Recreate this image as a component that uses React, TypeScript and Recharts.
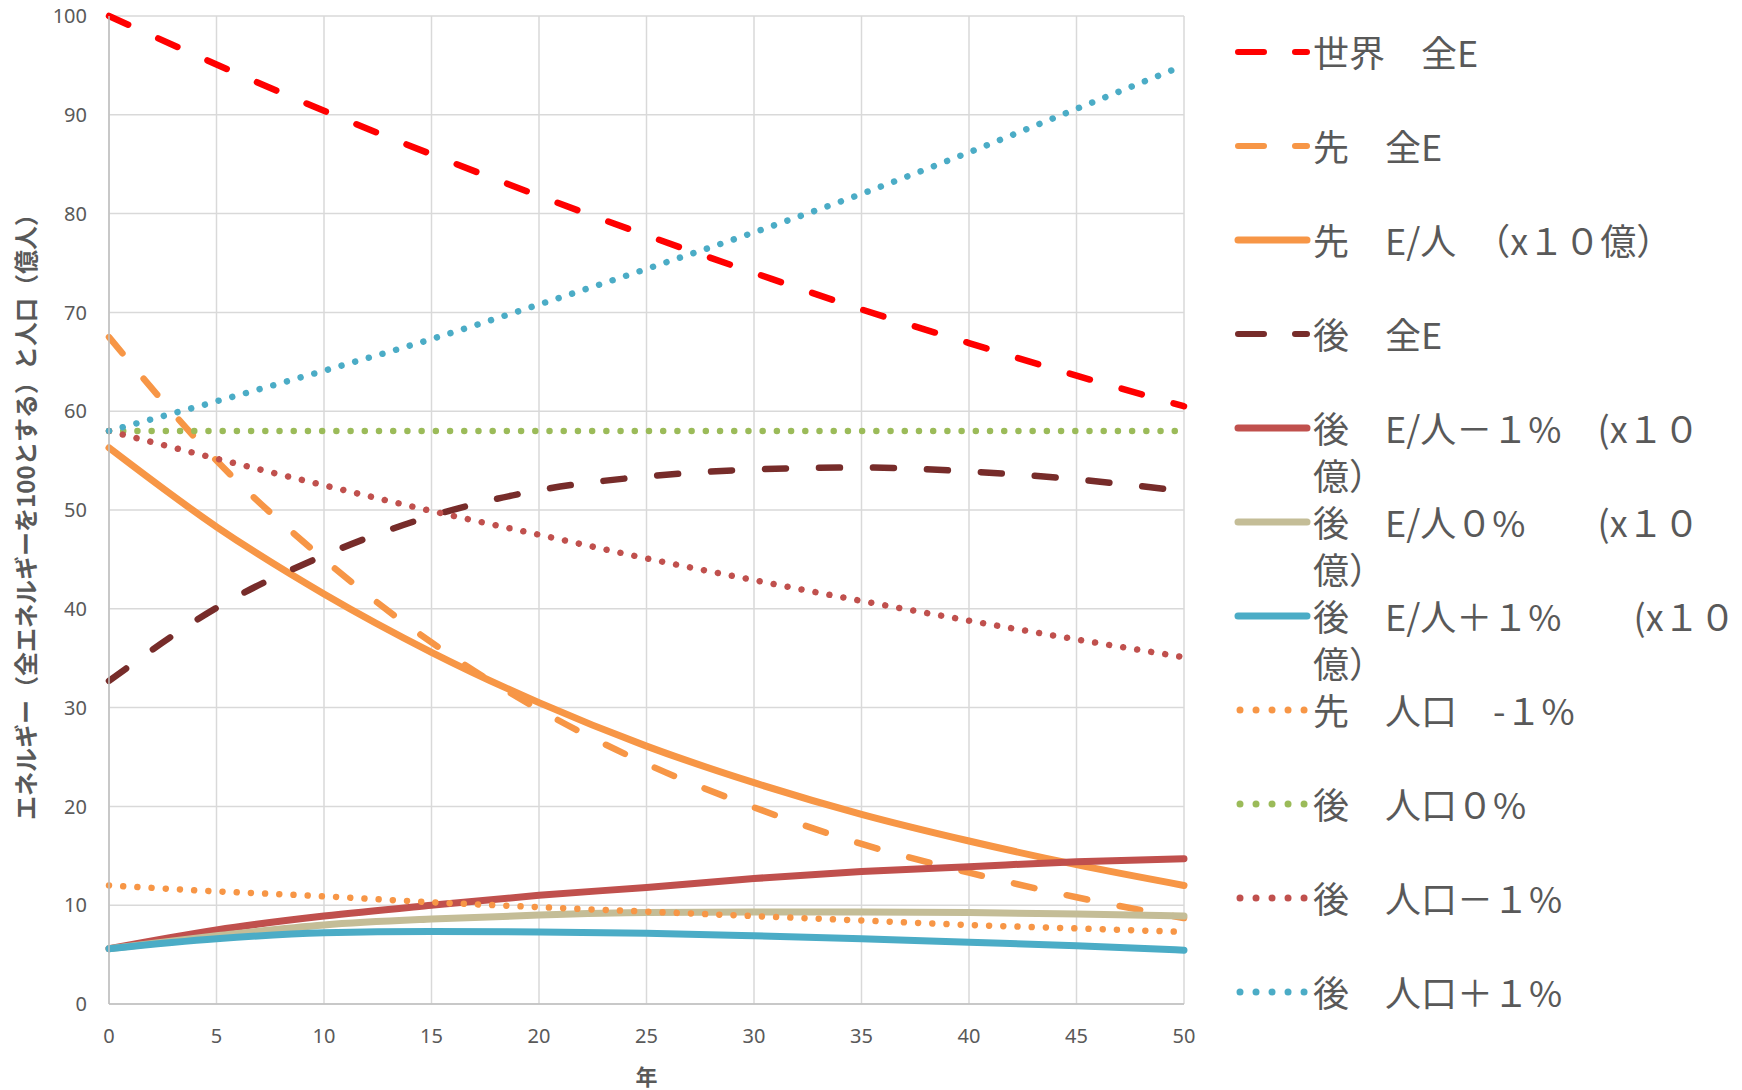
import { LineChart, Line, XAxis, YAxis, CartesianGrid, Legend, Label } from "recharts";

// 年
const years = [0, 5, 10, 15, 20, 25, 30, 35, 40, 45, 50];

// values, every 5 years
const worldTotal = [100, 95.1, 90.4, 86.0, 81.8, 77.8, 74.0, 70.3, 66.9, 63.6, 60.5];
const advTotal = [67.5, 55.0, 45.0, 36.6, 29.8, 24.3, 19.9, 16.2, 13.3, 10.8, 8.7];
const advPerCap = [56.3, 48.3, 41.5, 35.6, 30.5, 26.1, 22.4, 19.2, 16.5, 14.1, 12.0];
const lateTotal = [32.7, 40.1, 45.4, 49.4, 52.0, 53.4, 54.1, 54.3, 53.9, 53.1, 51.9];
const latePerCapMinus = [5.6, 7.5, 8.9, 10.0, 11.0, 11.8, 12.7, 13.4, 13.9, 14.4, 14.7];
const latePerCapZero = [5.6, 6.9, 8.0, 8.6, 9.0, 9.25, 9.3, 9.3, 9.25, 9.1, 8.9];
const latePerCapPlus = [5.6, 6.6, 7.2, 7.35, 7.3, 7.15, 6.9, 6.6, 6.25, 5.9, 5.45];
const advPopMinus = [12.0, 11.4, 10.9, 10.3, 9.8, 9.35, 8.9, 8.45, 8.0, 7.65, 7.3];
const latePopZero = [58, 58, 58, 58, 58, 58, 58, 58, 58, 58, 58];
const latePopMinus = [58, 55.2, 52.5, 49.9, 47.5, 45.1, 42.9, 40.8, 38.8, 36.9, 35.1];
const latePopPlus = [58, 61.0, 64.1, 67.3, 70.8, 74.4, 78.1, 82.0, 86.2, 90.6, 95.0];

const yTicks = [0, 10, 20, 30, 40, 50, 60, 70, 80, 90, 100];

type Kind = "dash" | "solid" | "dot";

const series: { key: string; label: string; color: string; kind: Kind; values: number[] }[] = [
  { key: "s1", label: "世界　全E", color: "#FF0000", kind: "dash", values: worldTotal },
  { key: "s2", label: "先　全E", color: "#F79646", kind: "dash", values: advTotal },
  { key: "s3", label: "先　E/人　（x１０億）", color: "#F79646", kind: "solid", values: advPerCap },
  { key: "s4", label: "後　全E", color: "#772C2A", kind: "dash", values: lateTotal },
  { key: "s5", label: "後　E/人－１%　(x１０\n億）", color: "#C0504D", kind: "solid", values: latePerCapMinus },
  { key: "s6", label: "後　E/人０%　　(x１０\n億）", color: "#C4BD97", kind: "solid", values: latePerCapZero },
  { key: "s7", label: "後　E/人＋１%　　(x１０\n億）", color: "#4BACC6", kind: "solid", values: latePerCapPlus },
  { key: "s8", label: "先　人口　-１%", color: "#F79646", kind: "dot", values: advPopMinus },
  { key: "s9", label: "後　人口０%", color: "#9BBB59", kind: "dot", values: latePopZero },
  { key: "s10", label: "後　人口－１%", color: "#C0504D", kind: "dot", values: latePopMinus },
  { key: "s11", label: "後　人口＋１%", color: "#4BACC6", kind: "dot", values: latePopPlus },
];

const data = years.map((y, i) => {
  const row: Record<string, number> = { year: y };
  series.forEach((s) => (row[s.key] = s.values[i]));
  return row;
});

const textColor = "#595959";
const tickStyle = { fill: textColor, fontSize: 20, fontFamily: "'Noto Sans', sans-serif" };

function lineStyle(kind: Kind) {
  if (kind === "dash") return { strokeWidth: 6.5, strokeDasharray: "21 33" };
  if (kind === "dot") return { strokeWidth: 6.5, strokeDasharray: "0.01 14.2" };
  return { strokeWidth: 7 };
}

function LegendIcon({ color, kind }: { color: string; kind: Kind }) {
  if (kind === "dot") {
    return <line x1={13} x2={78} y1={23} y2={23} stroke={color} strokeWidth={7} strokeLinecap="round" strokeDasharray="0.01 16" />;
  }
  if (kind === "dash") {
    return <line x1={11} x2={80} y1={23} y2={23} stroke={color} strokeWidth={6} strokeLinecap="round" strokeDasharray="26 31" />;
  }
  return <line x1={11} x2={80} y1={23} y2={23} stroke={color} strokeWidth={7} strokeLinecap="round" />;
}

function LegendBox() {
  return (
    <div style={{ position: "relative", width: 512, height: 1090 }}>
      {series.map((s, i) => (
        <div key={s.key} style={{ position: "absolute", left: 0, top: 29 + i * 94, display: "flex", alignItems: "flex-start" }}>
          <svg width={86} height={46} style={{ flex: "none" }}>
            <LegendIcon color={s.color} kind={s.kind} />
          </svg>
          <div
            style={{
              fontFamily: "'Noto Sans CJK JP', sans-serif",
              fontSize: 36,
              lineHeight: "47px",
              marginTop: -1,
              color: textColor,
              whiteSpace: "pre",
            }}
          >
            {s.label}
          </div>
        </div>
      ))}
    </div>
  );
}

export default function App() {
  return (
    <div style={{ position: "absolute", left: 0, top: 0, width: 1742, height: 1090, background: "#fff" }}>
      <LineChart width={1742} height={1090} data={data} margin={{ top: 16, right: 558, bottom: 0, left: 0 }}>
        <CartesianGrid stroke="#d9d9d9" strokeWidth={1.5} />
        <XAxis
          dataKey="year"
          type="number"
          domain={[0, 50]}
          ticks={years}
          height={86}
          tickLine={false}
          tickSize={0}
          tickMargin={25}
          axisLine={{ stroke: "#bfbfbf", strokeWidth: 1.5 }}
          tick={tickStyle}
        >
          <Label
            value="年"
            position="insideBottom"
            offset={5}
            style={{ fill: textColor, fontSize: 22, fontWeight: 700, fontFamily: "'Noto Sans CJK JP', sans-serif" }}
          />
        </XAxis>
        <YAxis
          type="number"
          domain={[0, 100]}
          ticks={yTicks}
          width={109}
          tickLine={false}
          tickSize={0}
          tickMargin={22}
          axisLine={{ stroke: "#bfbfbf", strokeWidth: 1.5 }}
          tick={tickStyle}
        >
          <Label
            content={() => (
              <text
                x={24}
                y={511}
                transform="rotate(-90 24 511)"
                textAnchor="middle"
                dominantBaseline="central"
                fill={textColor}
                fontSize={24}
                fontWeight={700}
                fontFamily="'Noto Sans CJK JP', sans-serif"
              >
                エネルギー（全エネルギーを100とする）と人口（億人）
              </text>
            )}
          />
        </YAxis>
        <Legend
          layout="vertical"
          align="center"
          verticalAlign="middle"
          wrapperStyle={{ left: 1227, top: 0, width: 512, height: 1090 }}
          content={() => <LegendBox />}
        />
        {series.map((s) => (
          <Line
            key={s.key}
            dataKey={s.key}
            name={s.label}
            type="monotone"
            stroke={s.color}
            strokeLinecap="round"
            {...lineStyle(s.kind)}
            dot={false}
            activeDot={false}
            isAnimationActive={false}
          />
        ))}
      </LineChart>
    </div>
  );
}
